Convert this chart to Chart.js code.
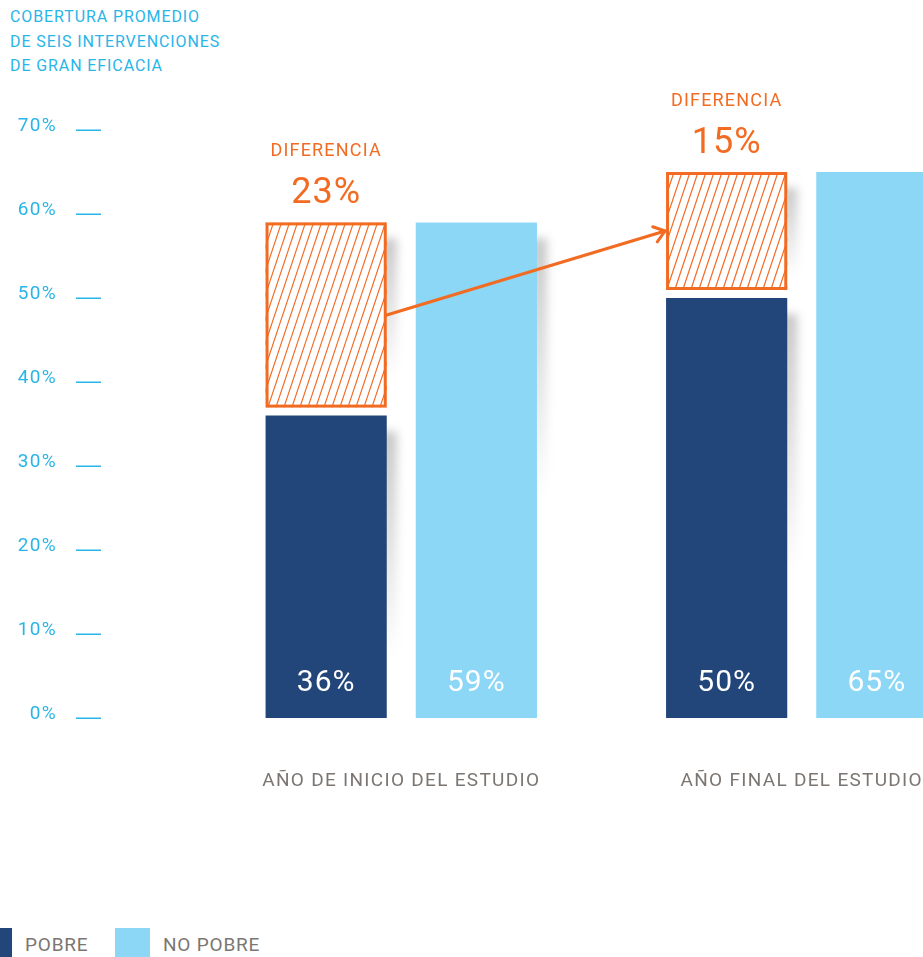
<!DOCTYPE html>
<html lang="es">
<head>
<meta charset="utf-8">
<title>Cobertura promedio de seis intervenciones de gran eficacia</title>
<script src="https://cdn.jsdelivr.net/npm/chart.js@4.4.1/dist/chart.umd.min.js"></script>
<style>
  html, body { margin: 0; padding: 0; background: #fff; overflow: hidden; }
  body { position: relative; width: 923px; height: 957px; font-family: Roboto, "Liberation Sans", Arial, sans-serif; }
  #title { position: absolute; left: 10px; top: 5px; color: #29b5e8; font-size: 16px; line-height: 24.5px; letter-spacing: 0.9px; }
  #chart { position: absolute; left: 0; top: 0; }
  .item { position: absolute; top: 928px; height: 29px; display: flex; align-items: center; }
  .item i { display: block; width: 35px; height: 29px; margin-right: 13px; }
  .item span { color: #7b7672; font-size: 19px; letter-spacing: 0.8px; line-height: 29px; padding-top: 4px; }
</style>
</head>
<body>
<div id="title">COBERTURA PROMEDIO<br>DE SEIS INTERVENCIONES<br>DE GRAN EFICACIA</div>
<canvas id="chart" width="1002" height="800"></canvas>
<div id="legend"></div>
<script>
// ---- data ----
const categories = ['AÑO DE INICIO DEL ESTUDIO', 'AÑO FINAL DEL ESTUDIO'];
const seriesNames = ['POBRE', 'NO POBRE'];
const pobre = [36, 50];
const noPobre = [59, 65];
const diferencia = [23, 15];
const yTicks = [0, 10, 20, 30, 40, 50, 60, 70];

const NAVY = '#22467a';
const SKY = '#8cd6f6';
const ORANGE = '#f26b22';
const BLUE_TXT = '#29b5e8';
const GREY_TXT = '#7b7672';
const FONT = 'Roboto, "Liberation Sans", Arial, sans-serif';

// ---- legend (html) ----
const legendLeft = [-23, 115];
const legend = document.getElementById('legend');
seriesNames.forEach((name, i) => {
    const item = document.createElement('div');
    item.className = 'item';
    item.style.left = legendLeft[i] + 'px';
    item.innerHTML = `<i style="background:${i === 0 ? NAVY : SKY}"></i><span>${name}</span>`;
    legend.appendChild(item);
});

// ---- helpers ----
function barBox(el) {
    const p = el.getProps(['x', 'y', 'base', 'width'], true);
    return {
        left: p.x - p.width / 2, right: p.x + p.width / 2,
        top: Math.min(p.y, p.base), bottom: Math.max(p.y, p.base), x: p.x
    };
}

function diffBoxes(chart) {
    const y = chart.scales.y;
    const meta = chart.getDatasetMeta(0);
    return diferencia.map((d, i) => {
        const b = barBox(meta.data[i]);
        return { left: b.left, right: b.right, x: b.x, top: y.getPixelForValue(pobre[i] + d), bottom: b.top - 8 };
    });
}

function dropShadow(ctx, b) {
    const top = b.top + 16;
    const len = Math.min((b.bottom - b.top) * 0.75, 260);
    const g = ctx.createLinearGradient(0, top, 0, top + len);
    g.addColorStop(0, 'rgba(0,0,0,0.22)');
    g.addColorStop(1, 'rgba(0,0,0,0)');
    ctx.save();
    ctx.filter = 'blur(5px)';
    ctx.fillStyle = g;
    ctx.fillRect(b.right - 6, top, 16, len);
    ctx.restore();
}

// ---- plugins ----
const spacing = {
    id: 'spacing',
    beforeLayout(chart) { chart.ctx.letterSpacing = '1.3px'; },
    beforeDraw(chart) { chart.ctx.letterSpacing = '1.3px'; }
};

const shadows = {
    id: 'shadows',
    beforeDatasetsDraw(chart) {
        const ctx = chart.ctx;
        chart.data.datasets.forEach((ds, di) => {
            chart.getDatasetMeta(di).data.forEach(el => dropShadow(ctx, barBox(el)));
        });
        diffBoxes(chart).forEach(b => dropShadow(ctx, b));
    }
};

const tickMarks = {
    id: 'tickMarks',
    afterDraw(chart) {
        const y = chart.scales.y;
        const ctx = chart.ctx;
        const labelRight = y.right - y.options.ticks.padding;
        ctx.save();
        ctx.strokeStyle = BLUE_TXT;
        ctx.lineWidth = 1.5;
        y.ticks.forEach(t => {
            const py = Math.round(y.getPixelForValue(t.value)) + 0.25;
            ctx.beginPath();
            ctx.moveTo(labelRight + 19, py);
            ctx.lineTo(labelRight + 44, py);
            ctx.stroke();
        });
        ctx.restore();
    }
};

const annotations = {
    id: 'annotations',
    afterDatasetsDraw(chart) {
        const ctx = chart.ctx;
        const boxes = diffBoxes(chart);

        // value labels inside the bars
        ctx.save();
        ctx.letterSpacing = '1px';
        ctx.fillStyle = '#ffffff';
        ctx.font = `30px ${FONT}`;
        ctx.textAlign = 'center';
        ctx.textBaseline = 'middle';
        chart.data.datasets.forEach((ds, di) => {
            chart.getDatasetMeta(di).data.forEach((el, i) => {
                const b = barBox(el);
                ctx.fillText(ds.data[i] + '%', b.x, b.bottom - 35);
            });
        });
        ctx.restore();

        // hatched difference boxes
        boxes.forEach((box, i) => {
            const w = box.right - box.left;
            const h = box.bottom - box.top;
            ctx.save();
            ctx.fillStyle = '#ffffff';
            ctx.fillRect(box.left, box.top, w, h);
            ctx.beginPath();
            ctx.rect(box.left, box.top, w, h);
            ctx.clip();
            ctx.strokeStyle = ORANGE;
            ctx.lineWidth = 1.2;
            const run = h / 3;
            for (let x = box.left - run; x < box.right + run; x += 8) {
                ctx.beginPath();
                ctx.moveTo(x, box.bottom);
                ctx.lineTo(x + run, box.top);
                ctx.stroke();
            }
            ctx.restore();

            ctx.save();
            ctx.strokeStyle = ORANGE;
            ctx.lineWidth = 3;
            ctx.strokeRect(box.left + 1.5, box.top + 1.5, w - 3, h - 3);

            ctx.fillStyle = ORANGE;
            ctx.textAlign = 'center';
            ctx.textBaseline = 'middle';
            ctx.letterSpacing = '1.2px';
            ctx.font = `18px ${FONT}`;
            ctx.fillText('DIFERENCIA', box.x, box.top - 71);
            ctx.letterSpacing = '1px';
            ctx.font = `36px ${FONT}`;
            ctx.fillText(diferencia[i] + '%', box.x, box.top - 28);
            ctx.restore();
        });

        // arrow from first box to second
        const a = boxes[0], b = boxes[1];
        const x1 = a.right, y1 = (a.top + a.bottom) / 2;
        const x2 = b.left, y2 = (b.top + b.bottom) / 2;
        const ang = Math.atan2(y2 - y1, x2 - x1);
        ctx.save();
        ctx.strokeStyle = ORANGE;
        ctx.lineWidth = 3;
        ctx.lineCap = 'round';
        ctx.lineJoin = 'round';
        ctx.beginPath();
        ctx.moveTo(x1, y1);
        ctx.lineTo(x2 - 1, y2);
        ctx.stroke();
        ctx.beginPath();
        ctx.moveTo(x2 - 14 * Math.cos(ang - 0.6), y2 - 14 * Math.sin(ang - 0.6));
        ctx.lineTo(x2 - 1, y2);
        ctx.lineTo(x2 - 14 * Math.cos(ang + 0.6), y2 - 14 * Math.sin(ang + 0.6));
        ctx.stroke();
        ctx.restore();
    }
};

// ---- chart ----
new Chart(document.getElementById('chart'), {
    type: 'bar',
    data: {
        labels: categories,
        datasets: [
            { label: seriesNames[0], data: pobre, backgroundColor: NAVY, borderWidth: 0 },
            { label: seriesNames[1], data: noPobre, backgroundColor: SKY, borderWidth: 0 }
        ]
    },
    options: {
        responsive: false,
        animation: false,
        events: [],
        categoryPercentage: 0.75,
        barPercentage: 0.807,
        layout: { padding: { top: 130, left: 0, right: 0, bottom: 0 } },
        plugins: {
            legend: { display: false },
            title: { display: false },
            tooltip: { enabled: false }
        },
        scales: {
            x: {
                grid: { display: false, drawTicks: false },
                border: { display: false },
                ticks: {
                    color: GREY_TXT,
                    font: { size: 19, family: FONT },
                    padding: 52,
                    maxRotation: 0,
                    autoSkip: false
                },
                afterFit(scale) { scale.height = 82; }
            },
            y: {
                min: 0,
                max: 70,
                afterBuildTicks(scale) { scale.ticks = yTicks.map(v => ({ value: v })); },
                grid: { display: false, drawTicks: false },
                border: { display: false },
                ticks: {
                    color: BLUE_TXT,
                    font: { size: 19, family: FONT },
                    padding: 144,
                    labelOffset: -4,
                    callback: v => v + '%'
                },
                afterFit(scale) {
                    scale.width = 201;
                    scale.paddingTop = 0;
                    scale.paddingBottom = 0;
                }
            }
        }
    },
    plugins: [spacing, shadows, annotations, tickMarks]
});
</script>
</body>
</html>
